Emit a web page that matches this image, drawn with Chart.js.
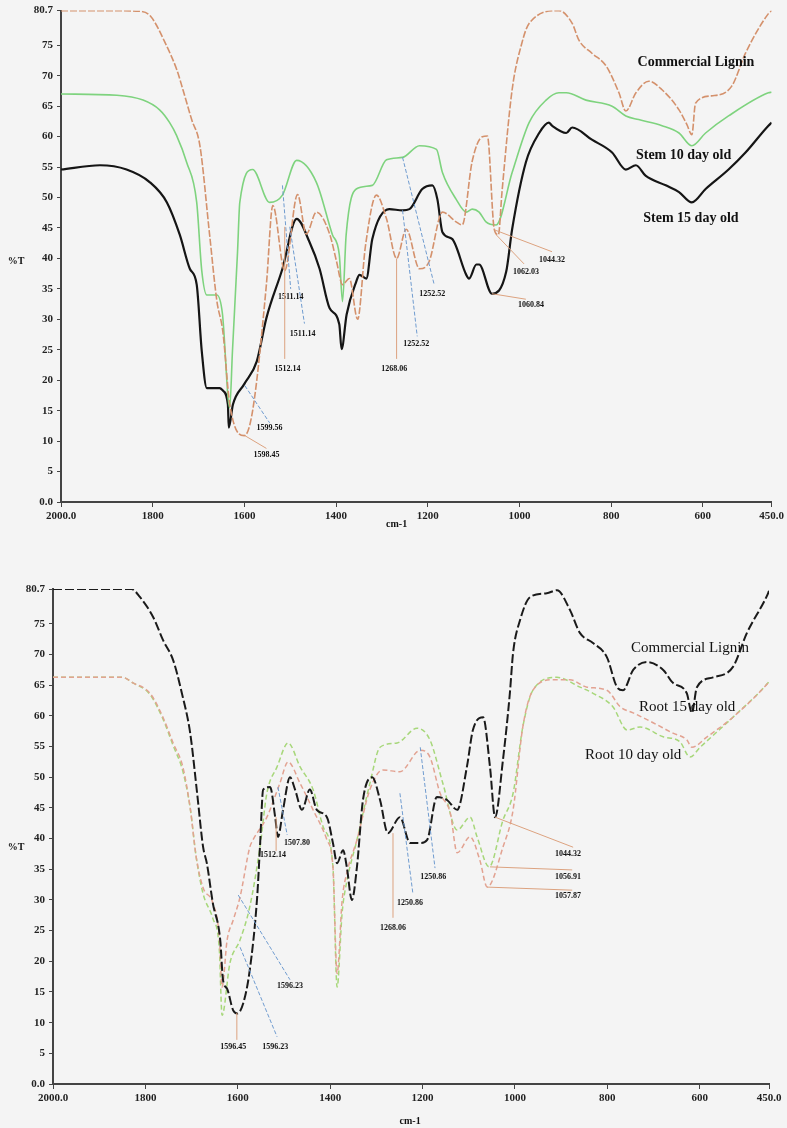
<!DOCTYPE html>
<html>
<head>
<meta charset="utf-8">
<script src="https://cdn.jsdelivr.net/npm/chart.js@4"></script>
<style>
body { margin: 0; background: #f4f4f4; }
#wrap { position: relative; width: 787px; height: 1128px; }
canvas { position: absolute; left: 0; }
</style>
</head>
<body>
<div id="wrap">
  <canvas id="stemChart" width="787" height="560" style="top:0"></canvas>
  <canvas id="rootChart" width="787" height="568" style="top:560px"></canvas>
</div>
<script>
// tick labels
const xTicks = [2000, 1800, 1600, 1400, 1200, 1000, 800, 600, 450];
const yTicks = [0, 5, 10, 15, 20, 25, 30, 35, 40, 45, 50, 55, 60, 65, 70, 75, 80.7];

// top panel: [wavenumber, %T]
const stemLignin = [[2000,80.7],[1900,80.7],[1830,80.6],[1805,79.8],[1769,74.8],[1747,70.9],[1734,67.7],[1715,62.8],[1697,58.5],[1676,44],[1660,33],[1647,28],[1632,16.1],[1600,10.9],[1582,15],[1552,35.7],[1538,48.7],[1512,38],[1484,50.5],[1465,44],[1443,47.6],[1414,44],[1399,39.5],[1386,35.7],[1371,36.7],[1353,30],[1336,42],[1312,50.4],[1290,46.5],[1268,40],[1247,44.8],[1218,38.3],[1197,39.5],[1168,47.6],[1138,46],[1125,45.5],[1103,56],[1081,60],[1070,60.1],[1055,44.8],[1046,43.9],[1038,51],[1016,67.7],[995,75.3],[979,78.6],[914,80.7],[885,78.6],[870,75.8],[842,73.7],[811,71.6],[783,67.2],[768,64.2],[746,67.2],[718,69.1],[689,67.7],[652,64.4],[635,62],[624,60.3],[616,65.5],[581,66.7],[537,68.3],[507,73.7],[457,80.2],[450,80.7]];
const stem10 = [[2000,67],[1878,66.8],[1821,66],[1785,64.4],[1763,62.3],[1748,60.2],[1726,55.8],[1704,49.2],[1693,38],[1682,34],[1660,34],[1648,31],[1632,15.5],[1626,24.8],[1615,41],[1610,49.2],[1582,54.6],[1545,49.2],[1517,50.4],[1486,56.1],[1443,52.5],[1408,43.9],[1393,40.6],[1386,32.9],[1378,43.9],[1356,51.4],[1321,52],[1290,56.2],[1255,56.6],[1218,58.5],[1181,57.9],[1168,54.1],[1138,49.7],[1116,47.6],[1103,48.1],[1088,47.6],[1073,46],[1051,45.5],[1016,54.1],[979,62.3],[942,66],[914,67.2],[898,67.2],[855,66],[798,65],[768,63.4],[740,62.8],[689,61.8],[652,60.6],[624,58.5],[594,60.6],[544,63.4],[457,67.2],[450,67.3]];
const stem15 = [[2000,54.6],[1915,55.3],[1857,54.6],[1806,52.5],[1769,49.2],[1741,43.9],[1719,38.3],[1704,35.7],[1693,24.8],[1682,18.7],[1654,18.7],[1647,18.3],[1636,16],[1634,12.2],[1625,16],[1600,19.4],[1573,23.1],[1552,30.2],[1517,38.3],[1486,46.5],[1458,42.7],[1436,38.3],[1414,31.8],[1393,29.2],[1388,25.1],[1377,30.8],[1356,36.2],[1349,37.3],[1334,36.7],[1321,43.2],[1284,48.1],[1255,47.9],[1240,48.1],[1212,51.4],[1190,52],[1179,49.7],[1168,44.3],[1147,43.2],[1116,37.3],[1110,36.7],[1094,39],[1088,39],[1060,34.2],[1029,37.8],[1016,44.8],[986,55.8],[957,60.6],[936,62.3],[929,61.8],[898,60.6],[885,61.5],[842,59.5],[798,57.4],[768,54.6],[746,55.3],[725,53.6],[681,52],[652,50.9],[624,49.2],[594,51.4],[544,54.6],[507,57.4],[457,61.8],[450,62.3]];

// bottom panel: [wavenumber, %T]
const rootLignin = [[2000,80.7],[1830,80.7],[1812,79.4],[1783,76.1],[1762,72.4],[1740,69.1],[1721,63.7],[1703,57.2],[1688,47.4],[1675,38.6],[1667,36],[1654,29.5],[1638,23.5],[1632,17],[1623,15.5],[1610,12],[1601,11.5],[1588,13.2],[1574,18.6],[1558,30.5],[1552,38.6],[1545,48],[1530,48.4],[1519,43.5],[1513,40.3],[1502,44.7],[1487,50],[1476,48],[1461,44.7],[1444,48],[1429,44.7],[1407,43.5],[1394,39.3],[1385,36],[1372,38.1],[1364,35.4],[1353,30],[1342,35.4],[1329,46.3],[1309,50],[1292,46.3],[1275,40.9],[1249,43.5],[1227,39.3],[1205,39.3],[1190,39.8],[1169,46.8],[1147,46.3],[1125,44.7],[1104,51.7],[1091,57.7],[1069,59.8],[1054,51.7],[1043,43.5],[1026,52.8],[1011,63.7],[1004,70.3],[989,75.6],[967,79.4],[931,80],[909,80.5],[881,77.3],[859,73.5],[831,71.9],[801,69.6],[779,64.7],[766,64.2],[744,67.5],[714,68.8],[679,67.5],[658,65.4],[628,63.7],[617,60.5],[606,64.7],[571,66.3],[528,68],[498,73.5],[452,80],[450,80.4]];
const root15 = [[2000,66.3],[1850,66.3],[1827,65.4],[1790,63.7],[1762,59.8],[1740,55.6],[1719,51.7],[1703,45],[1690,37],[1675,32],[1654,29.5],[1640,24],[1634,15.8],[1623,23.5],[1610,26.7],[1595,30.5],[1574,38.6],[1567,39.8],[1537,43.5],[1509,49],[1491,52.5],[1465,49],[1437,44.7],[1407,39.8],[1394,35.4],[1385,18],[1374,30],[1364,34.4],[1342,39.8],[1314,48],[1286,51.2],[1249,50.9],[1205,54.4],[1184,53.3],[1162,47.4],[1140,44.2],[1125,37.7],[1097,40.3],[1076,36.5],[1060,32.1],[1026,38.6],[1004,44.7],[983,58.2],[961,64.2],[918,65.9],[881,65.9],[844,64.7],[801,64.2],[772,61.5],[744,60.5],[701,58.9],[658,57.2],[628,56.1],[617,54.9],[584,56.6],[528,59.8],[452,65.4],[450,65.6]];
const root10 = [[2000,66.3],[1850,66.3],[1827,65.4],[1790,63.5],[1762,59.5],[1740,55.2],[1719,51],[1703,45],[1690,37],[1675,31],[1654,27],[1640,22],[1634,11.2],[1617,19.7],[1595,23.5],[1574,28.9],[1552,38.6],[1537,47.4],[1515,51.7],[1491,55.6],[1465,51.7],[1437,48],[1415,41.9],[1394,35.4],[1385,15.8],[1374,28],[1364,33],[1342,39.8],[1314,49],[1292,54.9],[1255,55.6],[1212,58],[1184,56.1],[1156,49],[1125,41.4],[1097,43.5],[1082,40.3],[1056,35.4],[1026,43],[1004,47.4],[983,58.2],[961,64.2],[909,66.3],[859,64.7],[831,63.7],[788,61.5],[757,57.7],[729,58.2],[679,56.6],[643,55.8],[621,53.3],[599,54.9],[528,59.8],[452,65.4],[450,65.6]];

// peak labels: [fromX, fromY, toX, toY, labelX, labelY, text, kind]
const stemPeaks = [
  [1599,10.9,1552,8.8,1552,7.7,'1598.45','o'],
  [1599,19.1,1545,13.0,1545,12.1,'1599.56','b'],
  [1517,52.0,1499,35.0,1499,33.7,'1511.14','b'],
  [1501,45.2,1469,29.3,1473,27.6,'1511.14','b'],
  [1512,45.2,1512,23.5,1506,21.8,'1512.14','o'],
  [1268,40,1268,23.5,1273,21.8,'1268.06','o'],
  [1255,47.9,1223,27.2,1225,25.9,'1252.52','b'],
  [1255,56.6,1186,35.7,1190,34.1,'1252.52','b'],
  [1060,34.2,986,33.3,975,32.4,'1060.84','o'],
  [1051,43.9,990,39.1,986,37.7,'1062.03','o'],
  [1055,44.7,929,41.1,929,39.8,'1044.32','o']
];
const rootPeaks = [
  [1602,11.6,1602,7.2,1610,6.0,'1596.45','o'],
  [1595,22.3,1515,7.7,1519,6.0,'1596.23','b'],
  [1599,30.8,1487,17.0,1487,16.0,'1596.23','b'],
  [1517,43.5,1517,38.0,1524,37.3,'1512.14','o'],
  [1513,48.4,1493,40.6,1472,39.3,'1507.80','b'],
  [1264,40.9,1264,27.1,1264,25.4,'1268.06','o'],
  [1249,47.4,1221,31.1,1227,29.5,'1250.86','b'],
  [1205,54.9,1173,35.2,1177,33.7,'1250.86','b'],
  [1043,43.5,874,38.6,885,37.5,'1044.32','o'],
  [1054,35.4,876,34.9,885,33.7,'1056.91','o'],
  [1060,32.1,876,31.6,885,30.6,'1057.87','o']
];

// series names placed in data space: [x, y, text]
const stemNames = [[615,72.2,'Commercial Lignin'],[642,56.9,'Stem 10 day old'],[626,46.6,'Stem 15 day old']];
const rootNames = [[621,71.1,'Commercial Lignin'],[627,61.5,'Root 15 day old'],[744,53.6,'Root 10 day old']];

function toPoints(arr) {
  return arr.map(function(p) { return { x: p[0], y: p[1] }; });
}

function tickText(v) {
  if (v === 2000 || v === 450 || v === 0) return v.toFixed(1);
  return String(v);
}

function notesPlugin(peaks, names, nameFont, titleY, unitX, unitOffset) {
  return {
    id: 'notes',
    afterDatasetsDraw(chart) {
      const ctx = chart.ctx;
      const xs = chart.scales.x;
      const ys = chart.scales.y;
      const area = chart.chartArea;
      ctx.save();
      peaks.forEach(function(p) {
        ctx.strokeStyle = p[7] === 'b' ? '#6f9bcf' : '#dca27f';
        ctx.setLineDash(p[7] === 'b' ? [4, 2] : []);
        ctx.lineWidth = 1;
        ctx.beginPath();
        ctx.moveTo(xs.getPixelForValue(p[0]), ys.getPixelForValue(p[1]));
        ctx.lineTo(xs.getPixelForValue(p[2]), ys.getPixelForValue(p[3]));
        ctx.stroke();
        ctx.setLineDash([]);
        ctx.fillStyle = '#111';
        ctx.font = 'bold 8px "Liberation Serif"';
        ctx.textAlign = 'center';
        ctx.textBaseline = 'middle';
        ctx.fillText(p[6], xs.getPixelForValue(p[4]), ys.getPixelForValue(p[5]));
      });
      ctx.font = nameFont;
      ctx.fillStyle = '#111';
      names.forEach(function(n) {
        ctx.fillText(n[2], xs.getPixelForValue(n[0]), ys.getPixelForValue(n[1]));
      });
      ctx.font = 'bold 10px "Liberation Serif"';
      ctx.fillText('%T', 16, ys.getPixelForValue(titleY));
      ctx.fillText('cm-1', xs.getPixelForValue(unitX), area.bottom + unitOffset);
      ctx.restore();
    }
  };
}

function makeChart(id, sets, box, plugin) {
  const tickFont = { family: 'Liberation Serif', weight: 'bold', size: 11 };
  return new Chart(document.getElementById(id), {
    type: 'line',
    data: { datasets: sets },
    options: {
      responsive: false,
      animation: false,
      devicePixelRatio: 1,
      layout: { padding: { left: 0, right: box.right, top: box.top, bottom: 0 } },
      plugins: { legend: { display: false }, tooltip: { enabled: false } },
      elements: { point: { radius: 0 } },
      scales: {
        x: {
          type: 'linear', reverse: true, min: 450, max: 2000,
          afterBuildTicks: function(axis) { axis.ticks = xTicks.map(function(v) { return { value: v }; }); },
          afterFit: function(axis) { axis.height = box.xh; },
          ticks: { autoSkip: false, maxRotation: 0, padding: 3, color: '#222', font: tickFont, callback: tickText },
          grid: { drawOnChartArea: false, drawTicks: true, tickLength: 5, color: '#444' },
          border: { display: true, color: '#444', width: 2 }
        },
        y: {
          min: 0, max: 80.7,
          afterBuildTicks: function(axis) { axis.ticks = yTicks.map(function(v) { return { value: v }; }); },
          afterFit: function(axis) { axis.width = box.yw; },
          ticks: { autoSkip: false, padding: 4, color: '#222', font: tickFont, callback: tickText },
          grid: { drawOnChartArea: false, drawTicks: true, tickLength: 4, color: '#444' },
          border: { display: true, color: '#444', width: 2 }
        }
      }
    },
    plugins: [plugin]
  });
}

makeChart('stemChart', [
  { label: 'Commercial Lignin', data: toPoints(stemLignin), borderColor: '#d4916c', borderWidth: 1.6, borderDash: [7, 2], cubicInterpolationMode: 'monotone' },
  { label: 'Stem 10 day old', data: toPoints(stem10), borderColor: '#7ed37e', borderWidth: 1.6, cubicInterpolationMode: 'monotone' },
  { label: 'Stem 15 day old', data: toPoints(stem15), borderColor: '#151515', borderWidth: 2.2, cubicInterpolationMode: 'monotone' }
], { right: 14, top: 7, xh: 58, yw: 61 },
  notesPlugin(stemPeaks, stemNames, 'bold 14px "Liberation Serif"', 39.5, 1268, 22));

makeChart('rootChart', [
  { label: 'Commercial Lignin', data: toPoints(rootLignin), borderColor: '#1a1a1a', borderWidth: 2, borderDash: [9, 3], cubicInterpolationMode: 'monotone' },
  { label: 'Root 15 day old', data: toPoints(root15), borderColor: '#e2a291', borderWidth: 1.5, borderDash: [5, 3], cubicInterpolationMode: 'monotone' },
  { label: 'Root 10 day old', data: toPoints(root10), borderColor: '#a7d77a', borderWidth: 1.5, borderDash: [5, 3], cubicInterpolationMode: 'monotone' }
], { right: 18, top: 29, xh: 44, yw: 53 },
  notesPlugin(rootPeaks, rootNames, '15px "Liberation Serif"', 38.6, 1227, 37));
</script>
</body>
</html>
